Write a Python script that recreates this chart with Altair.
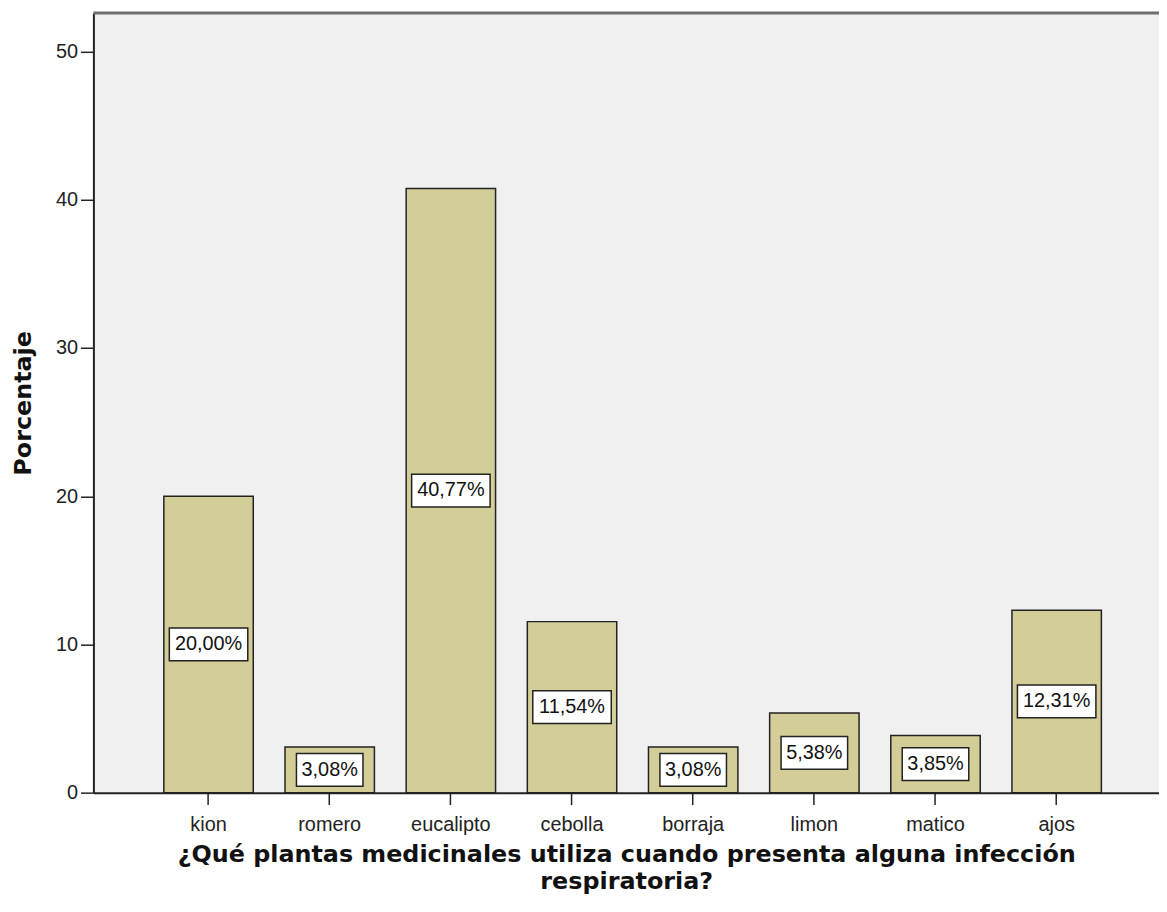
import altair as alt
import pandas as pd

# ---- data ----
categories = ["kion", "romero", "eucalipto", "cebolla", "borraja", "limon", "matico", "ajos"]
percentages = [20.00, 3.08, 40.77, 11.54, 3.08, 5.38, 3.85, 12.31]
labels = ["20,00%", "3,08%", "40,77%", "11,54%", "3,08%", "5,38%", "3,85%", "12,31%"]
y_ticks = [0, 10, 20, 30, 40, 50]
x_title = ["¿Qué plantas medicinales utiliza cuando presenta alguna infección", "respiratoria?"]
y_title = "Porcentaje"

df = pd.DataFrame({"planta": categories, "pct": percentages, "label": labels})

# ---- layout ----
Y_MAX = 52.6
PLOT_W = 1073
PLOT_H = 785
BOX_H_PX = 33
box_half = BOX_H_PX / 2 * Y_MAX / PLOT_H

BAR_FILL = "#D3CE97"
EDGE = "#222222"
TICK_FONT = "Liberation Sans"
TITLE_FONT = "DejaVu Sans"

x_scale = alt.Scale(paddingInner=0.262, paddingOuter=0.5285, align=0.55)
y_scale = alt.Scale(domain=[0, Y_MAX], nice=False, zero=True)

x_enc = alt.X(
    "planta:N", sort=categories, scale=x_scale,
    axis=alt.Axis(
        title=x_title, labelAngle=0, tickSize=12, tickWidth=1.5, tickColor=EDGE,
        domainColor=EDGE, domainWidth=2, labelFont=TICK_FONT, labelFontSize=20,
        labelColor="#222", labelPadding=10, titleFont=TITLE_FONT, titleFontSize=24,
        titleFontWeight="bold", titleColor="#111", titleLineHeight=28, titlePadding=8,
    ),
)
y_enc = alt.Y(
    "pct:Q", scale=y_scale,
    axis=alt.Axis(
        title=y_title, values=y_ticks, grid=False, tickSize=13, tickWidth=1.5,
        tickColor=EDGE, domainColor=EDGE, domainWidth=2, labelFont=TICK_FONT,
        labelFontSize=20, labelColor="#222", labelPadding=3, titleFont=TITLE_FONT,
        titleFontSize=24, titleFontWeight="bold", titleColor="#111", titlePadding=20,
    ),
)

x_plain = alt.X("planta:N", sort=categories, scale=x_scale, title=x_title)

bars = alt.Chart(df).mark_bar(fill=BAR_FILL, stroke=EDGE, strokeWidth=1.5).encode(
    x=x_enc, y=y_enc
)

boxes = (
    alt.Chart(df)
    .transform_calculate(
        lo=f"datum.pct/2 - {box_half}",
        hi=f"datum.pct/2 + {box_half}",
        bw="length(datum.label)*12 + 7",
    )
    .mark_bar(fill="white", stroke=EDGE, strokeWidth=1.5)
    .encode(
        x=x_plain,
        y=alt.Y("lo:Q", scale=y_scale, title=y_title),
        y2="hi:Q",
        size=alt.Size("bw:Q", scale=None),
    )
)

texts = (
    alt.Chart(df)
    .transform_calculate(mid="datum.pct/2")
    .mark_text(font=TICK_FONT, fontSize=20, color="#111", baseline="middle", align="center")
    .encode(x=x_plain, y=alt.Y("mid:Q", scale=y_scale, title=y_title), text="label:N")
)

top_line = alt.Chart(pd.DataFrame({"t": [Y_MAX]})).mark_rule(color="#6e6e6e", strokeWidth=3).encode(
    y=alt.Y("t:Q", scale=y_scale, title=y_title)
)

chart = (
    alt.layer(bars, boxes, texts, top_line)
    .properties(
        width=PLOT_W, height=PLOT_H,
        autosize=alt.AutoSizeParams(type="none"),
        padding={"left": 86, "top": 2, "right": 0, "bottom": 110},
        background="white",
    )
    .configure_view(fill="#F0F0F0", stroke=None)
)

chart.save("out.html", embed_options={"renderer": "svg", "actions": False})
